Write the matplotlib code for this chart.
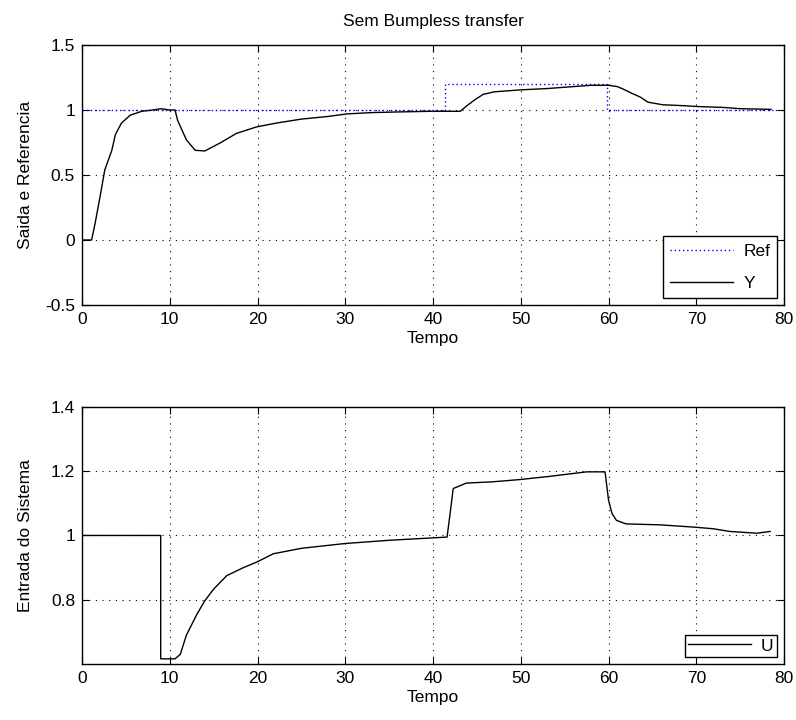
import matplotlib
matplotlib.use("Agg")
import matplotlib.pyplot as plt
import numpy as np

plt.rcParams['font.family'] = ['Liberation Sans Narrow', 'Liberation Sans', 'DejaVu Sans']
plt.rcParams['font.size'] = 12.5

# Saida Y
t_y = [0, 1.1, 1.5, 2.05, 2.6, 3.4, 3.8, 4.5, 5.5, 6.8, 8.1, 9.0, 10.0, 10.6,
       10.9, 11.9, 12.9, 14.0, 15.7, 17.6, 19.9, 22.2, 25, 28, 30.2, 33, 36,
       39.7, 43.1, 43.8, 44.8, 45.7, 47, 50, 53, 56, 58, 60, 61, 61.7, 62.6,
       63.6, 64.5, 66.2, 68, 70.4, 73, 75, 78.5]
y = [0, 0, 0.13, 0.33, 0.54, 0.69, 0.81, 0.90, 0.96, 0.99, 1.0, 1.01, 1.0, 1.0,
     0.92, 0.77, 0.69, 0.685, 0.745, 0.82, 0.87, 0.90, 0.93, 0.95, 0.97, 0.98, 0.985,
     0.99, 0.99, 1.03, 1.08, 1.12, 1.14, 1.155, 1.165, 1.18, 1.19, 1.19, 1.18, 1.16, 1.13,
     1.10, 1.06, 1.04, 1.035, 1.026, 1.02, 1.01, 1.005]

# Referencia
t_ref = [0, 41.4, 41.4, 59.8, 59.8, 79]
ref = [1, 1, 1.2, 1.2, 1, 1]

# Entrada U
t_u = [0, 8.97, 8.97, 10.6, 11.2, 11.9, 13.1, 14.0, 15.0, 16.5, 18.4, 19.9, 21.8,
       25, 30, 35, 41.6, 42.0, 42.3, 43.8, 46.8, 49.9, 53.3, 57.5, 59.6, 60.0, 60.4,
       60.9, 62.0, 65.9, 69.7, 71.9, 73.8, 76.9, 78.4]
u = [1, 1, 0.616, 0.616, 0.63, 0.69, 0.755, 0.797, 0.833, 0.875, 0.90, 0.917, 0.943,
     0.96, 0.975, 0.985, 0.995, 1.08, 1.146, 1.163, 1.167, 1.174, 1.184, 1.198, 1.198,
     1.11, 1.068, 1.047, 1.036, 1.033, 1.026, 1.021, 1.0125, 1.007, 1.0125]

fig = plt.figure(figsize=(7.96, 7.2), dpi=100)
ax1 = fig.add_axes([0.103, 0.5764, 0.882, 0.3611])
ax2 = fig.add_axes([0.103, 0.0778, 0.882, 0.357])

ax1.plot(t_ref, ref, color='blue', lw=1, linestyle=(0, (1, 2)), label='Ref')
ax1.plot(t_y, y, '-', color='black', lw=1, label='Y')
ax1.set_xlim(0, 80)
ax1.set_ylim(-0.5, 1.5)
ax1.set_yticks([-0.5, 0, 0.5, 1, 1.5])
ax1.set_yticklabels(['-0.5', '0', '0.5', '1', '1.5'])
ax1.set_title('Sem Bumpless transfer', fontsize=12.5, pad=14)
ax1.set_ylabel('Saida e Referencia', labelpad=9)
ax1.set_xlabel('Tempo', labelpad=3)
ax1.legend(loc='lower right', fancybox=False, edgecolor='black', framealpha=1,
           handlelength=3.6, borderaxespad=0.4, labelspacing=1.0, handletextpad=0.6)

ax2.plot(t_u, u, '-', color='black', lw=1, label='U')
ax2.set_xlim(0, 80)
ax2.set_ylim(0.6, 1.4)
ax2.set_yticks([0.8, 1, 1.2, 1.4])
ax2.set_yticklabels(['0.8', '1', '1.2', '1.4'])
ax2.set_ylabel('Entrada do Sistema', labelpad=13)
ax2.set_xlabel('Tempo', labelpad=3)
ax2.legend(loc='lower right', fancybox=False, edgecolor='black', framealpha=1,
           handlelength=3.6, borderaxespad=0.4, borderpad=0.2, handletextpad=0.6)

for ax in (ax1, ax2):
    ax.set_xticks(range(0, 81, 10))
    ax.grid(True, color='black', lw=0.8, linestyle=(0, (1, 5)))
    ax.tick_params(direction='in', top=True, right=True, length=5, pad=5)
    for s in ax.spines.values():
        s.set_linewidth(1)

fig.savefig('out.png', dpi=100)
